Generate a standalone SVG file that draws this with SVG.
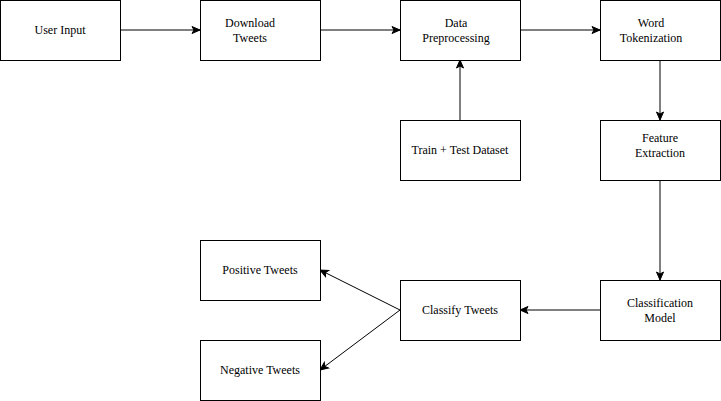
<svg xmlns="http://www.w3.org/2000/svg" width="721" height="401" viewBox="0 0 721 401">
<style>
.box{fill:#fff;stroke:#000;stroke-width:1}
.t{font-family:"Liberation Serif","Times New Roman",serif;font-size:12px;fill:#000;text-anchor:middle}
.c{fill:none;stroke:#000;stroke-width:1;marker-end:url(#ah)}
</style>
<defs>
<marker id="ah" markerUnits="userSpaceOnUse" markerWidth="10" markerHeight="10" viewBox="0 0 10 10" refX="9" refY="5" orient="auto">
<path d="M1,1.5 L9,5 L1,8.5 L3,5 Z" fill="#000" stroke="#000" stroke-width="1"/>
</marker>
</defs>
<rect width="721" height="401" fill="#fff"/>
<g id="connectors">
<line class="c" x1="120" y1="30" x2="200" y2="30"/>
<line class="c" x1="320" y1="30" x2="400" y2="30"/>
<line class="c" x1="520" y1="30" x2="600" y2="30"/>
<line class="c" x1="460" y1="120" x2="460" y2="60"/>
<line class="c" x1="660" y1="60" x2="660" y2="120"/>
<line class="c" x1="660" y1="180" x2="660" y2="280"/>
<line class="c" x1="600" y1="310" x2="520" y2="310"/>
<line class="c" x1="400" y1="310" x2="320" y2="270"/>
<line class="c" x1="400" y1="310" x2="320" y2="370"/>
</g>
<g id="user-input"><rect class="box" x="0.5" y="0.5" width="120" height="60"/><text class="t" x="60" y="34">User Input</text></g>
<g id="download-tweets"><rect class="box" x="200.5" y="0.5" width="120" height="60"/><text class="t" x="250" y="27">Download</text><text class="t" x="250" y="42">Tweets</text></g>
<g id="data-preprocessing"><rect class="box" x="400.5" y="0.5" width="120" height="60"/><text class="t" x="456" y="27">Data</text><text class="t" x="456" y="42">Preprocessing</text></g>
<g id="word-tokenization"><rect class="box" x="600.5" y="0.5" width="120" height="60"/><text class="t" x="651" y="27">Word</text><text class="t" x="651" y="42">Tokenization</text></g>
<g id="train-test"><rect class="box" x="400.5" y="120.5" width="120" height="60"/><text class="t" x="460" y="154">Train + Test Dataset</text></g>
<g id="feature-extraction"><rect class="box" x="600.5" y="120.5" width="120" height="60"/><text class="t" x="660" y="142">Feature</text><text class="t" x="660" y="157">Extraction</text></g>
<g id="classification-model"><rect class="box" x="600.5" y="280.5" width="120" height="60"/><text class="t" x="660" y="307">Classification</text><text class="t" x="660" y="322">Model</text></g>
<g id="classify-tweets"><rect class="box" x="400.5" y="280.5" width="120" height="60"/><text class="t" x="460" y="314">Classify Tweets</text></g>
<g id="positive-tweets"><rect class="box" x="200.5" y="240.5" width="120" height="60"/><text class="t" x="260" y="274">Positive Tweets</text></g>
<g id="negative-tweets"><rect class="box" x="200.5" y="340.5" width="120" height="60"/><text class="t" x="260" y="374">Negative Tweets</text></g>
</svg>
